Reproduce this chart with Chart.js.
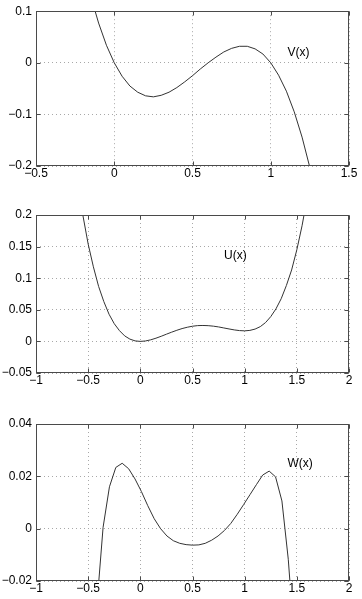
<!DOCTYPE html>
<html>
<head>
<meta charset="utf-8">
<script src="https://cdn.jsdelivr.net/npm/chart.js@4.4.1/dist/chart.umd.min.js"></script>
<style>
  html, body { margin: 0; padding: 0; background: #fff; }
  body { width: 362px; height: 599px; position: relative; overflow: hidden; }
  .box { position: absolute; left: 0; width: 362px; }
</style>
</head>
<body>
<div class="box" style="top:0;height:200px"><canvas id="c1"></canvas></div>
<div class="box" style="top:200px;height:200px"><canvas id="c2"></canvas></div>
<div class="box" style="top:400px;height:199px"><canvas id="c3"></canvas></div>
<script>
// ---- Panel 1: V(x) ----
const xV = [-0.15,-0.10,-0.05,0,0.05,0.10,0.15,0.20,0.25,0.30,0.35,0.40,0.45,0.50,0.55,0.60,0.65,0.70,0.75,0.80,0.85,0.90,0.95,1.00,1.05,1.10,1.15,1.20,1.25,1.30];
const yV = [0.129,0.077,0.034,0,-0.026,-0.045,-0.057,-0.064,-0.066,-0.063,-0.057,-0.048,-0.037,-0.025,-0.012,0,0.011,0.021,0.028,0.032,0.032,0.027,0.017,0,-0.024,-0.055,-0.095,-0.144,-0.203,-0.273];
const xTicksV = [-0.5,0,0.5,1,1.5];
const xLabelsV = ['\u22120.5','0','0.5','1','1.5'];
const yTicksV = [-0.2,-0.1,0,0.1];
const yLabelsV = ['\u22120.2','\u22120.1','0','0.1'];

// ---- Panel 2: U(x) ----
const xU = [-0.60,-0.55,-0.50,-0.45,-0.40,-0.35,-0.30,-0.25,-0.20,-0.15,-0.10,-0.05,0,0.05,0.10,0.15,0.20,0.25,0.30,0.35,0.40,0.45,0.50,0.55,0.60,0.65,0.70,0.75,0.80,0.85,0.90,0.95,1.00,1.05,1.10,1.15,1.20,1.25,1.30,1.35,1.40,1.45,1.50,1.55,1.60];
const yU = [0.252,0.199,0.154,0.118,0.087,0.063,0.043,0.028,0.017,0.0087,0.0036,0.0008,0,0.0007,0.0025,0.0051,0.0081,0.0114,0.0146,0.0176,0.0203,0.0224,0.0240,0.0250,0.0252,0.0249,0.0241,0.0229,0.0213,0.0197,0.0182,0.0171,0.0167,0.0174,0.0195,0.0234,0.0298,0.0392,0.0515,0.0675,0.0885,0.113,0.145,0.183,0.228];
const xTicksU = [-1,-0.5,0,0.5,1,1.5,2];
const xLabelsU = ['\u22121','\u22120.5','0','0.5','1','1.5','2'];
const yTicksU = [-0.05,0,0.05,0.1,0.15,0.2];
const yLabelsU = ['\u22120.05','0','0.05','0.1','0.15','0.2'];

// ---- Panel 3: W(x) ----
const xW = [-0.418,-0.357,-0.296,-0.235,-0.174,-0.112,-0.051,0.010,0.071,0.133,0.194,0.255,0.316,0.378,0.439,0.500,0.561,0.622,0.684,0.745,0.806,0.867,0.929,0.990,1.051,1.112,1.173,1.235,1.296,1.357,1.418,1.480];
const yW = [-0.030,0.0005,0.0160,0.0234,0.0250,0.0229,0.0190,0.0142,0.0088,0.0038,0.0000,-0.0028,-0.0046,-0.0056,-0.0061,-0.0063,-0.0062,-0.0056,-0.0044,-0.0028,-0.0007,0.0020,0.0055,0.0092,0.0130,0.0168,0.0205,0.0220,0.0198,0.0106,-0.0117,-0.045];
const xTicksW = [-1,-0.5,0,0.5,1,1.5,2];
const xLabelsW = ['\u22121','\u22120.5','0','0.5','1','1.5','2'];
const yTicksW = [-0.02,0,0.02,0.04];
const yLabelsW = ['\u22120.02','0','0.02','0.04'];

const FONT = { family: '"Liberation Sans", Arial, Helvetica, sans-serif', size: 12 };
const LINE = '#333333';
const AXIS = '#4a4a4a';
const GRID = '#a8a8a8';

const boxPlugin = {
  id: 'matlabBox',
  afterDraw(chart) {
    const { ctx, chartArea: a, scales } = chart;
    ctx.save();
    ctx.strokeStyle = AXIS;
    ctx.lineWidth = 1;
    const L = Math.round(a.left) + 0.5, R = Math.round(a.right) - 0.5;
    const T = Math.round(a.top) + 0.5, B = Math.round(a.bottom) - 0.5;
    ctx.strokeRect(L, T, R - L, B - T);
    const tl = 4;
    ctx.beginPath();
    scales.x.ticks.forEach(t => {
      const px = Math.round(scales.x.getPixelForValue(t.value)) + 0.5;
      ctx.moveTo(px, B); ctx.lineTo(px, B - tl);
      ctx.moveTo(px, T); ctx.lineTo(px, T + tl);
    });
    scales.y.ticks.forEach(t => {
      const py = Math.round(scales.y.getPixelForValue(t.value)) + 0.5;
      ctx.moveTo(L, py); ctx.lineTo(L + tl, py);
      ctx.moveTo(R, py); ctx.lineTo(R - tl, py);
    });
    ctx.stroke();
    const lab = chart.options.plugins.curveLabel;
    if (lab) {
      ctx.fillStyle = '#000';
      ctx.font = `12px ${FONT.family}`;
      ctx.textAlign = 'center';
      ctx.textBaseline = 'middle';
      ctx.fillText(lab.text, scales.x.getPixelForValue(lab.x), scales.y.getPixelForValue(lab.y));
    }
    ctx.restore();
  }
};

function makeChart(id, xs, ys, xT, xL, yT, yL, padTop, xAxisH, label) {
  const xmin = xT[0], xmax = xT[xT.length - 1];
  const ymin = yT[0], ymax = yT[yT.length - 1];
  return new Chart(document.getElementById(id), {
    type: 'line',
    data: {
      datasets: [{
        data: xs.map((x, i) => ({ x: x, y: ys[i] })),
        borderColor: LINE,
        borderWidth: 1,
        pointRadius: 0,
        tension: 0,
        fill: false
      }]
    },
    options: {
      responsive: true,
      maintainAspectRatio: false,
      devicePixelRatio: 1,
      animation: false,
      events: [],
      layout: { padding: { left: 0, right: 13, top: padTop, bottom: 0 } },
      plugins: { legend: { display: false }, tooltip: { enabled: false }, curveLabel: label },
      scales: {
        x: {
          type: 'linear', min: xmin, max: xmax,
          afterBuildTicks: s => { s.ticks = xT.map(v => ({ value: v })); },
          afterFit: s => { s.height = xAxisH; },
          ticks: { font: FONT, color: '#000', padding: 0, maxRotation: 0, autoSkip: false,
                   callback: (v, i) => xL[i] },
          grid: { color: GRID, lineWidth: 1, drawTicks: false },
          border: { display: false, dash: [1, 3] }
        },
        y: {
          type: 'linear', min: ymin, max: ymax,
          afterBuildTicks: s => { s.ticks = yT.map(v => ({ value: v })); },
          afterFit: s => { s.width = 36; },
          ticks: { font: FONT, color: '#000', padding: 4, autoSkip: false,
                   callback: (v, i) => yL[i] },
          grid: { color: GRID, lineWidth: 1, drawTicks: false },
          border: { display: false, dash: [1, 3] }
        }
      }
    },
    plugins: [boxPlugin]
  });
}

makeChart('c1', xV, yV, xTicksV, xLabelsV, yTicksV, yLabelsV, 11, 34, { text: 'V(x)', x: 1.178, y: 0.020 });
makeChart('c2', xU, yU, xTicksU, xLabelsU, yTicksU, yLabelsU, 15, 27, { text: 'U(x)', x: 0.911, y: 0.135 });
makeChart('c3', xW, yW, xTicksW, xLabelsW, yTicksW, yLabelsW, 24, 18, { text: 'W(x)', x: 1.531, y: 0.0248 });
</script>
</body>
</html>
